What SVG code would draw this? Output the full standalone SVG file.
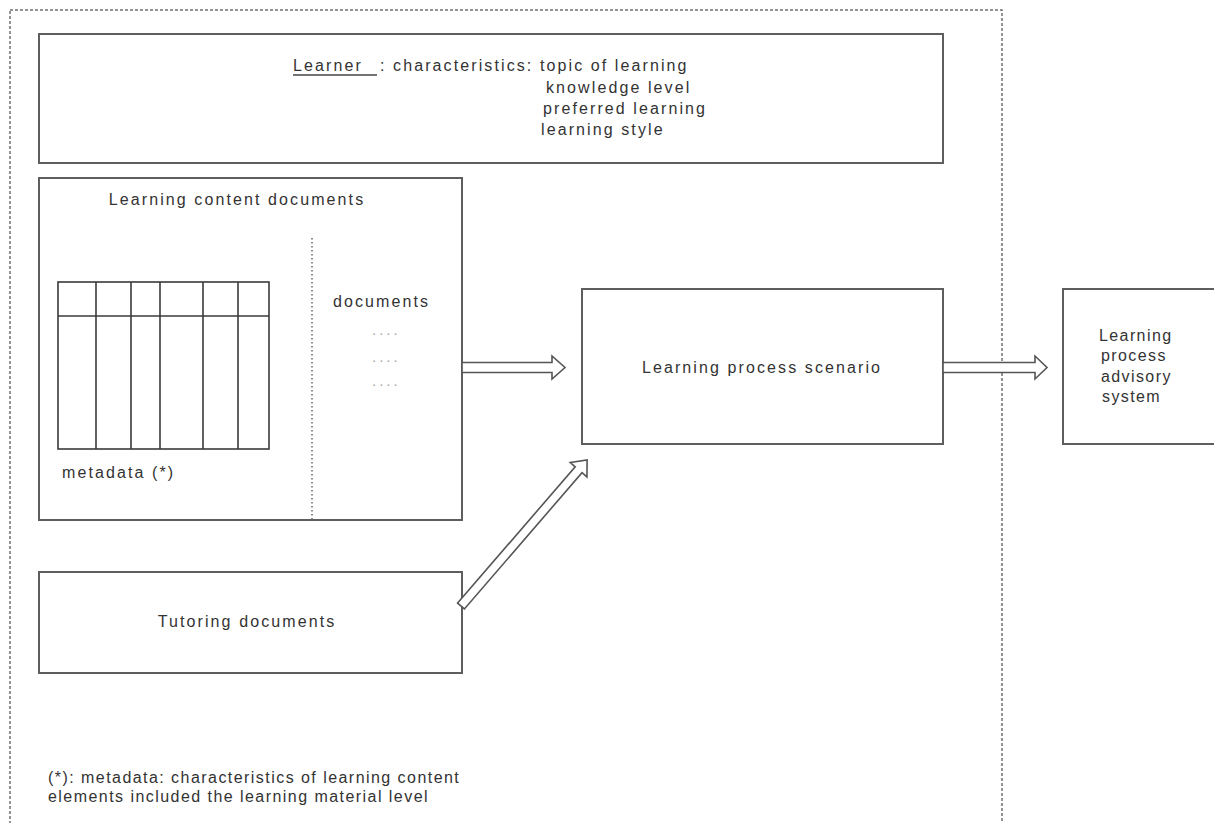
<svg xmlns="http://www.w3.org/2000/svg" width="1214" height="823" viewBox="0 0 1214 823">
  <style>
    .box { fill: #ffffff; stroke: #5e5e5e; stroke-width: 2; }
    .outer { fill: none; stroke: #707070; stroke-width: 1.5; stroke-dasharray: 3 2; }
    .dotline { fill: none; stroke: #666666; stroke-width: 1.5; stroke-dasharray: 1.5 2.5; }
    .grid { fill: none; stroke: #3a3a3a; stroke-width: 1.6; }
    .arrow { fill: #ffffff; stroke: #555555; stroke-width: 1.6; stroke-linejoin: miter; }
    .t { font-family: "Liberation Sans", Arial, sans-serif; font-size: 16px; fill: #333333; letter-spacing: 2.1px; }
    .mid { text-anchor: middle; }
    .note { letter-spacing: 1.45px; }
    .adv { letter-spacing: 1.4px; }
    .dots { font-family: "Liberation Sans", Arial, sans-serif; font-size: 15px; fill: #a8a8a8; letter-spacing: 3px; }
  </style>

  <rect class="outer" x="10" y="10" width="992" height="830"/>

  <g id="learner">
    <rect class="box" x="39" y="34" width="904" height="129"/>
    <text class="t" x="293" y="71">Learner</text>
    <line x1="293" y1="75" x2="377" y2="75" stroke="#444444" stroke-width="1.6"/>
    <text class="t" x="380" y="71">: characteristics: topic of learning</text>
    <text class="t" x="546" y="93">knowledge level</text>
    <text class="t" x="543" y="114">preferred learning</text>
    <text class="t" x="541" y="135">learning style</text>
  </g>

  <g id="learning-content-documents">
    <rect class="box" x="39" y="178" width="423" height="342"/>
    <text class="t mid" x="237" y="205">Learning content documents</text>
    <g id="metadata-table">
      <rect class="grid" x="58" y="282" width="211" height="167"/>
      <line class="grid" x1="58" y1="316" x2="269" y2="316"/>
      <line class="grid" x1="96" y1="282" x2="96" y2="449"/>
      <line class="grid" x1="131" y1="282" x2="131" y2="449"/>
      <line class="grid" x1="160" y1="282" x2="160" y2="449"/>
      <line class="grid" x1="203" y1="282" x2="203" y2="449"/>
      <line class="grid" x1="238" y1="282" x2="238" y2="449"/>
    </g>
    <text class="t" x="62" y="478">metadata (*)</text>
    <line class="dotline" x1="312" y1="238" x2="312" y2="520"/>
    <text class="t" x="333" y="307">documents</text>
    <text class="dots" x="372" y="335">....</text>
    <text class="dots" x="372" y="362">....</text>
    <text class="dots" x="372" y="386">....</text>
  </g>

  <g id="tutoring-documents">
    <rect class="box" x="39" y="572" width="423" height="101"/>
    <text class="t mid" x="247" y="627">Tutoring documents</text>
  </g>

  <g id="learning-process-scenario">
    <rect class="box" x="582" y="289" width="361" height="155"/>
    <text class="t mid" x="762" y="373">Learning process scenario</text>
  </g>

  <g id="learning-process-advisory-system">
    <rect class="box" x="1063" y="289" width="160" height="155"/>
    <text class="t adv" x="1099" y="341">Learning</text>
    <text class="t adv" x="1101" y="361">process</text>
    <text class="t adv" x="1101" y="382">advisory</text>
    <text class="t adv" x="1102" y="402">system</text>
  </g>

  <g id="connectors">
    <polygon class="arrow" points="462,362.5 552,362.5 552,356 565,367.5 552,379 552,372.5 462,372.5"/>
    <polygon class="arrow" points="943,362.5 1035,362.5 1035,356 1047,367.5 1035,379 1035,372.5 943,372.5"/>
    <polygon class="arrow" transform="translate(461,606) rotate(-49.2)" points="0,-4.5 180,-4.5 180,-11 193,0 180,11 180,4.5 0,4.5"/>
  </g>

  <text class="t note" x="48" y="783">(*): metadata: characteristics of learning content</text>
  <text class="t note" x="48" y="802">elements included the learning material level</text>
</svg>
